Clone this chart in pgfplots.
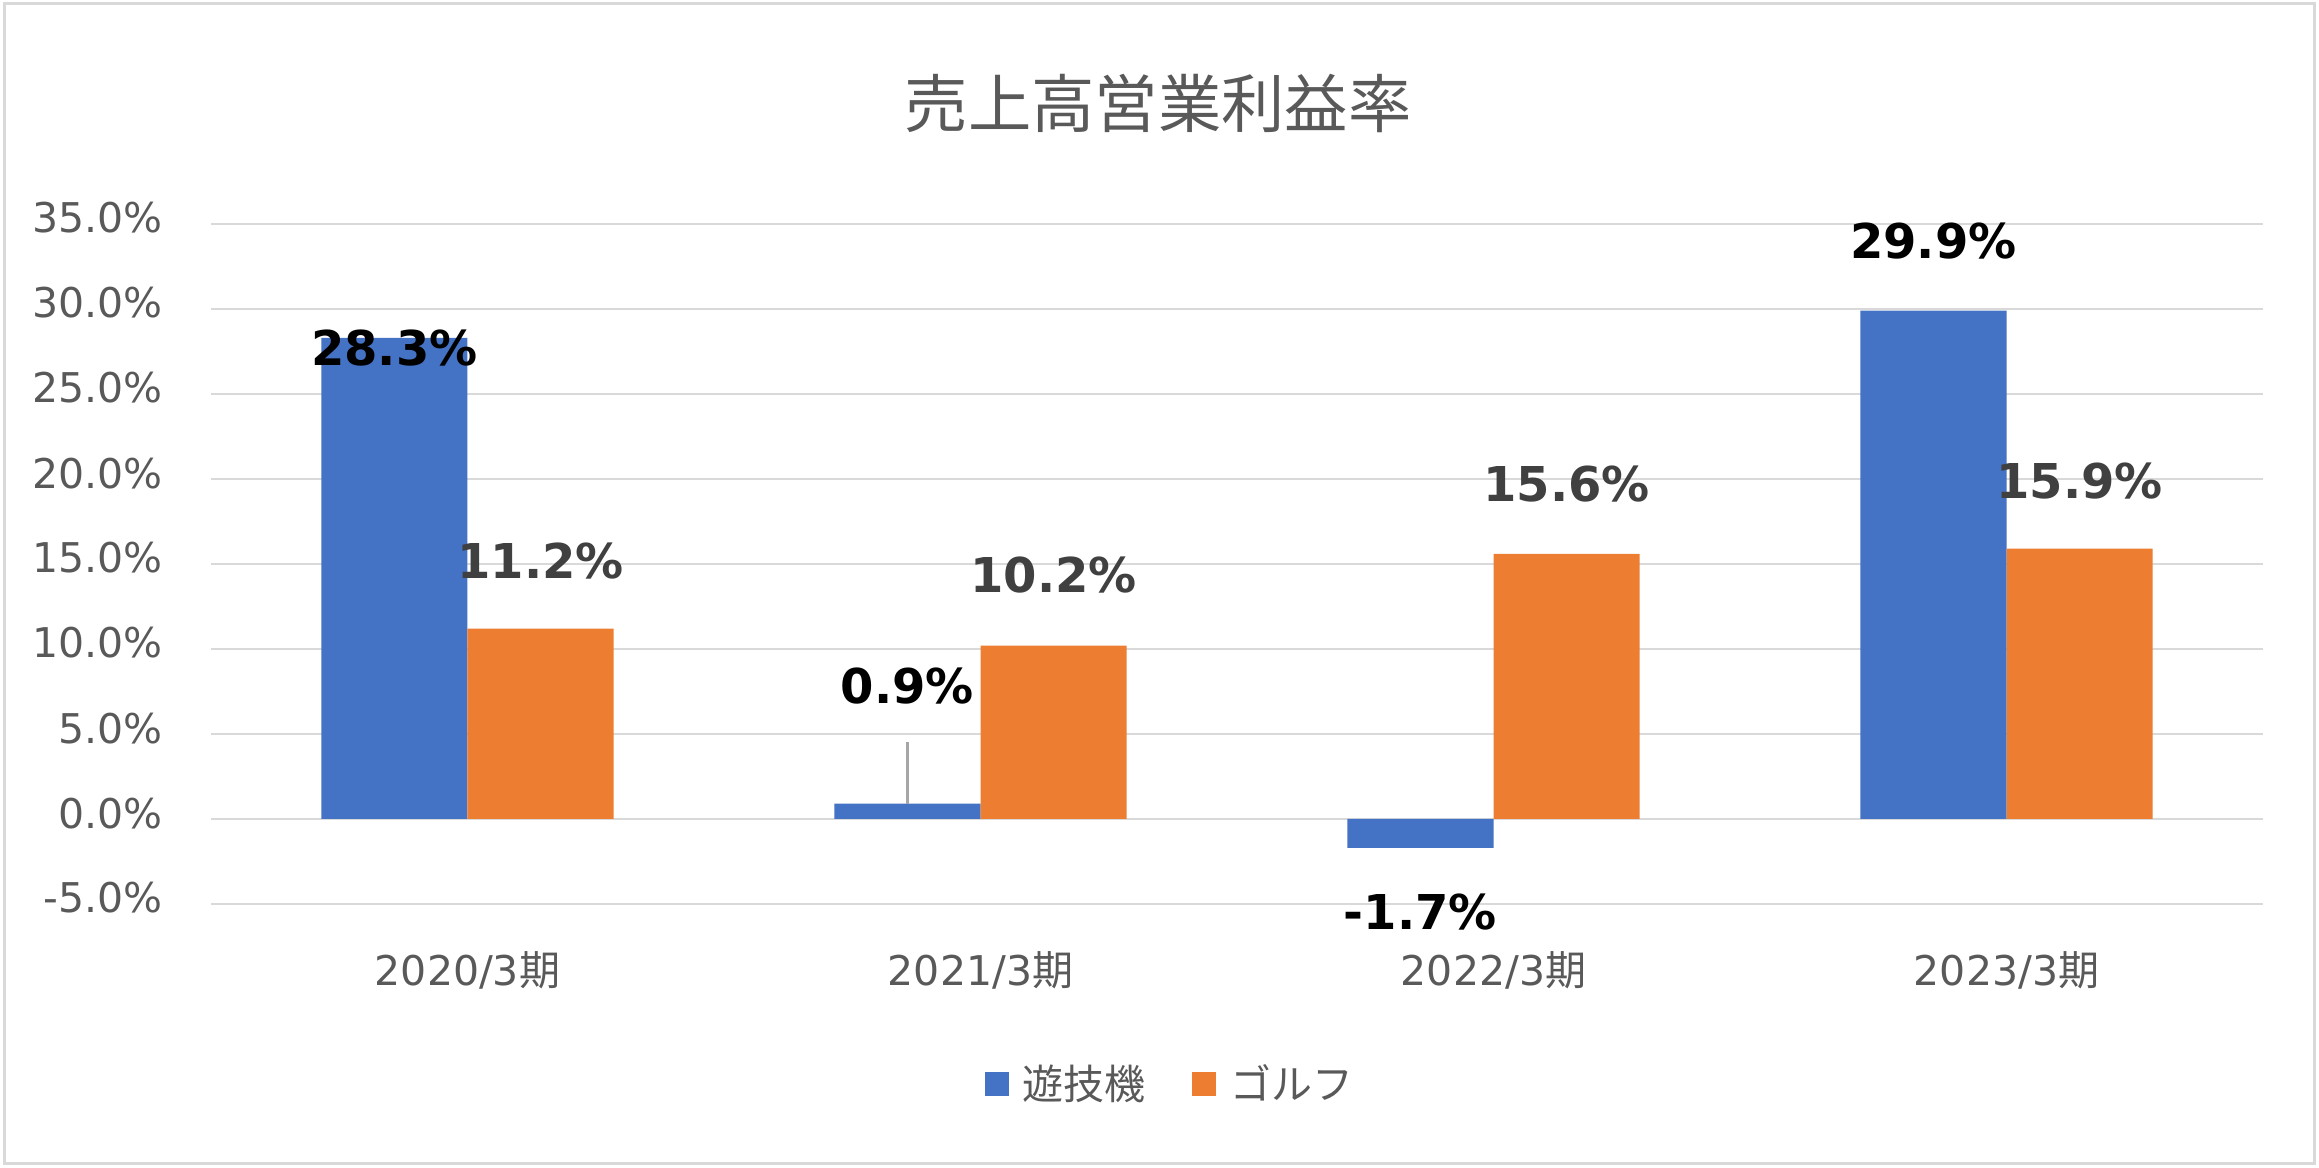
\documentclass[border=0pt]{standalone}
\usepackage{pgfplots}
\pgfplotsset{compat=1.18}
\usepackage{fontspec}
\setmainfont{DejaVu Sans}
\newfontfamily\cjk{Noto Sans CJK JP}
\definecolor{cblue}{HTML}{4472C4}
\definecolor{corange}{HTML}{ED7D31}
\definecolor{cgrid}{HTML}{D9D9D9}
\definecolor{ctext}{HTML}{595959}
\definecolor{clab}{HTML}{404040}
\definecolor{clead}{HTML}{A6A6A6}
\begin{document}
\begin{tikzpicture}
\useasboundingbox (-63.3pt,-79.2pt) rectangle (632.4pt,271.2pt);
\draw[cgrid, line width=0.9pt] (-62pt,-77.8pt) rectangle (631pt,270pt);
\begin{axis}[
  scale only axis, width=615.6pt, height=204pt,
  at={(0pt,0pt)}, anchor=south west,
  clip=false,
  xmin=-0.5, xmax=3.5, ymin=-5, ymax=35,
  axis line style={draw=none},
  major tick length=0pt,
  ytick={-5,0,5,10,15,20,25,30,35},
  yticklabels={-5.0\%,0.0\%,5.0\%,10.0\%,15.0\%,20.0\%,25.0\%,30.0\%,35.0\%},
  ymajorgrids, grid style={cgrid, line width=0.8pt},
  xtick={0,1,2,3},
  xticklabels={{2020/3{\cjk 期}},{2021/3{\cjk 期}},{2022/3{\cjk 期}},{2023/3{\cjk 期}}},
  ticklabel style={font=\fontsize{12.3}{14}\selectfont, text=ctext, inner sep=0pt},
  yticklabel style={anchor=base east, xshift=-14.4pt, yshift=-2.7pt},
  xticklabel style={anchor=base, yshift=-24.3pt},
  title={\cjk 売上高営業利益率},
  title style={at={(0.4615,1.148)}, anchor=center, font=\fontsize{19}{22}\selectfont, text=ctext},
  legend columns=2,
  legend style={at={(0.4685,-0.265)}, anchor=center, draw=none, fill=none,
    font=\fontsize{12.3}{14}\selectfont, text=ctext,
    /tikz/every even column/.append style={column sep=12pt},
    nodes={inner sep=2pt}},
  legend image code/.code={\fill[#1] (0pt,-3.6pt) rectangle (7.2pt,3.6pt); \path (9.3pt,0pt);},
]
\addplot[ybar, bar width=0.285, bar shift=-0.1425, fill=cblue, draw=none]
  coordinates {(0,28.3) (1,0.9) (2,-1.7) (3,29.9)};
\addlegendentry{\cjk 遊技機}
\addplot[ybar, bar width=0.285, bar shift=0.1425, fill=corange, draw=none]
  coordinates {(0,11.2) (1,10.2) (2,15.6) (3,15.9)};
\addlegendentry{\cjk ゴルフ}
\addplot[forget plot, color=clead, line width=0.7pt] coordinates {(0.8575,0.9) (0.8575,4.5)};
\addplot[forget plot, draw=none, mark=none, point meta=explicit symbolic,
  nodes near coords, nodes near coords align={center},
  nodes near coords style={anchor=center, font=\bfseries\fontsize{14.4}{16}\selectfont, text=black, inner sep=0pt}]
  coordinates {(-0.1425,27.7) [28.3\%] (0.8575,7.8) [0.9\%] (1.8575,-5.5) [-1.7\%] (2.8575,34.0) [29.9\%]};
\addplot[forget plot, draw=none, mark=none, point meta=explicit symbolic,
  nodes near coords, nodes near coords align={center},
  nodes near coords style={anchor=center, font=\bfseries\fontsize{14.4}{16}\selectfont, text=clab, inner sep=0pt}]
  coordinates {(0.1425,15.2) [11.2\%] (1.1425,14.35) [10.2\%] (2.1425,19.7) [15.6\%] (3.1425,19.9) [15.9\%]};
\end{axis}
\end{tikzpicture}
\end{document}
